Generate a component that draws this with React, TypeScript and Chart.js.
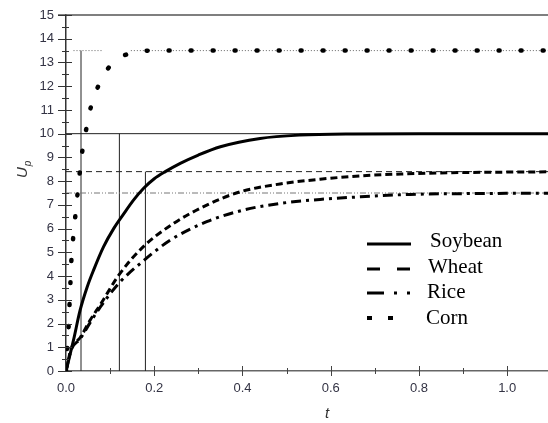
import { useEffect, useRef } from 'react';
import { Chart, registerables } from 'chart.js';

Chart.register(...registerables);

// ---- data ----
const SERIES_NAMES = ['Soybean', 'Wheat', 'Rice', 'Corn'];

const soybeanT = [0, 0.017, 0.032, 0.048, 0.0625, 0.085, 0.108, 0.13, 0.153, 0.176, 0.2, 0.225, 0.259, 0.3, 0.35, 0.44, 0.53, 0.65, 0.8, 1.19];
const soybeanU = [0, 1.3, 2.56, 3.54, 4.25, 5.23, 6.0, 6.6, 7.2, 7.7, 8.1, 8.4, 8.75, 9.1, 9.45, 9.8, 9.94, 9.99, 10, 10];

const wheatT = [0, 0.012, 0.032, 0.055, 0.078, 0.12, 0.176, 0.244, 0.319, 0.395, 0.485, 0.576, 0.667, 0.76, 0.89, 1.0, 1.19];
const wheatU = [0, 0.95, 1.4, 2.15, 2.8, 4.05, 5.25, 6.22, 6.99, 7.55, 7.88, 8.08, 8.22, 8.3, 8.36, 8.38, 8.4];

const riceT = [0, 0.012, 0.032, 0.055, 0.078, 0.12, 0.176, 0.236, 0.319, 0.402, 0.485, 0.576, 0.659, 0.78, 0.95, 1.19];
const riceU = [0, 0.9, 1.35, 2.05, 2.7, 3.7, 4.65, 5.51, 6.29, 6.78, 7.06, 7.23, 7.33, 7.44, 7.48, 7.5];

const cornT = [0, 0.003, 0.006, 0.008, 0.01, 0.012, 0.016, 0.021, 0.026, 0.031, 0.037, 0.046, 0.056, 0.073, 0.105, 0.155, 0.205, 1.19];
const cornU = [0, 1.0, 1.9, 2.8, 3.7, 4.6, 5.56, 6.5, 7.44, 8.33, 9.27, 10.2, 11.1, 12.0, 12.97, 13.42, 13.5, 13.5];

// steady-state levels (Soybean, Wheat, Rice, Corn) and time constants (Soybean, Wheat/Rice, Corn)
const STEADY_LEVELS = [10, 8.4, 7.5, 13.5];
const TIME_CONSTANTS = [0.121, 0.18, 0.034];
const CORN_LEVEL_SPANS = [0.017, 0.085, 0.147, 1.19];

const X_MIN = 0;
const X_MAX = 1.19;
const Y_MIN = 0;
const Y_MAX = 15;
const X_TICK_STEP = 0.2;
const Y_TICK_STEP = 1;

const toPts = (ts: number[], us: number[]) => ts.map((t, i) => ({ x: t, y: us[i] }));

const decorPlugin = {
  id: 'decor',
  afterDraw(chart: any) {
    const ctx = chart.ctx as CanvasRenderingContext2D;
    const xs = chart.scales.x;
    const ys = chart.scales.y;
    const ax = xs.left;
    const ay = ys.bottom;
    ctx.save();

    // top border line
    ctx.strokeStyle = '#555';
    ctx.lineWidth = 1.5;
    ctx.beginPath();
    ctx.moveTo(ax - 8, ys.top);
    ctx.lineTo(chart.width, ys.top);
    ctx.stroke();

    // y tick marks (major + minor)
    ctx.strokeStyle = '#333';
    ctx.lineWidth = 1;
    for (let k = 0; k <= 30; k++) {
      const v = k / 2;
      const major = k % 2 === 0;
      const py = Math.round(ys.getPixelForValue(v)) + 0.5;
      ctx.beginPath();
      ctx.moveTo(ax - (major ? 8 : 4), py);
      ctx.lineTo(ax + (major ? 6 : 3), py);
      ctx.stroke();
    }
    // x tick marks (major + minor)
    ctx.strokeStyle = '#444';
    for (let k = 1; k <= 11; k++) {
      const v = k / 10;
      const major = k % 2 === 0;
      const px = Math.round(xs.getPixelForValue(v)) + 0.5;
      ctx.beginPath();
      ctx.moveTo(px, ay - (major ? 5 : 3));
      ctx.lineTo(px, ay + (major ? 5 : 3));
      ctx.stroke();
    }

    // axis titles
    ctx.fillStyle = '#333';
    ctx.save();
    ctx.translate(27, 178);
    ctx.rotate(-Math.PI / 2);
    ctx.font = 'italic 15px "Liberation Sans", Arial, sans-serif';
    ctx.textBaseline = 'alphabetic';
    ctx.textAlign = 'left';
    ctx.fillText('U', 0, 0);
    const uw = ctx.measureText('U').width;
    ctx.font = 'italic 10px "Liberation Sans", Arial, sans-serif';
    ctx.fillText('p', uw + 1, 4);
    ctx.restore();

    ctx.font = 'italic 15px "Liberation Sans", Arial, sans-serif';
    ctx.textAlign = 'center';
    ctx.textBaseline = 'middle';
    ctx.fillText('t', 327, 414);

    // legend
    const lx0 = 367;
    const lx1 = 411;
    const lineYs = [244, 269, 293, 318];
    const textYs = [247, 273, 298, 324];
    const textXs = [430, 428, 427, 426];
    const dashes = [[], [13, 17], [17, 10, 3, 10, 3, 100], [5, 16, 5, 100]];
    const widths = [3, 3, 3, 4];
    for (let i = 0; i < SERIES_NAMES.length; i++) {
      ctx.strokeStyle = '#000';
      ctx.lineWidth = widths[i];
      ctx.lineCap = 'butt';
      ctx.setLineDash(dashes[i]);
      ctx.beginPath();
      ctx.moveTo(lx0, lineYs[i]);
      ctx.lineTo(lx1, lineYs[i]);
      ctx.stroke();
      ctx.setLineDash([]);
      ctx.fillStyle = '#000';
      ctx.font = '21px "Liberation Serif", "Times New Roman", serif';
      ctx.textAlign = 'left';
      ctx.textBaseline = 'alphabetic';
      ctx.fillText(SERIES_NAMES[i], textXs[i], textYs[i]);
    }
    ctx.restore();
  },
};

export default function App() {
  const canvasRef = useRef<HTMLCanvasElement | null>(null);

  useEffect(() => {
    if (!canvasRef.current) return;
    const curve = (label: string, data: any[], dash: number[], width: number, cap: any = 'butt') => ({
      label,
      data,
      borderColor: '#000',
      backgroundColor: '#000',
      borderWidth: width,
      borderDash: dash,
      borderCapStyle: cap,
      pointRadius: 0,
      fill: false,
      cubicInterpolationMode: 'monotone' as const,
    });
    const ref = (data: any[], dash: number[], color: string, width = 1) => ({
      label: '',
      data,
      borderColor: color,
      borderWidth: width,
      borderDash: dash,
      pointRadius: 0,
      fill: false,
      tension: 0,
      spanGaps: false,
    });

    const [soyK, wheatK, riceK, cornK] = STEADY_LEVELS;
    const [soyTau, wrTau, cornTau] = TIME_CONSTANTS;

    const chart = new Chart(canvasRef.current, {
      type: 'line',
      data: {
        datasets: [
          curve(SERIES_NAMES[0], toPts(soybeanT, soybeanU), [], 3),
          curve(SERIES_NAMES[1], toPts(wheatT, wheatU), [7, 4], 3),
          curve(SERIES_NAMES[2], toPts(riceT, riceU), [10, 5, 3, 5], 3),
          curve(SERIES_NAMES[3], toPts(cornT, cornU), [1, 21], 4.5, 'round'),
          ref([{ x: X_MIN, y: soyK }, { x: X_MAX, y: soyK }], [], '#222'),
          ref([{ x: X_MIN, y: wheatK }, { x: X_MAX, y: wheatK }], [6, 4], '#222'),
          ref([{ x: X_MIN, y: riceK }, { x: X_MAX, y: riceK }], [6, 2, 1, 2, 1, 2], '#777'),
          ref(
            [
              { x: CORN_LEVEL_SPANS[0], y: cornK },
              { x: CORN_LEVEL_SPANS[1], y: cornK },
              { x: (CORN_LEVEL_SPANS[1] + CORN_LEVEL_SPANS[2]) / 2, y: null },
              { x: CORN_LEVEL_SPANS[2], y: cornK },
              { x: CORN_LEVEL_SPANS[3], y: cornK },
            ],
            [1, 2],
            '#666'
          ),
          ref([{ x: soyTau, y: 0 }, { x: soyTau, y: soyK }], [], '#222'),
          ref([{ x: wrTau, y: 0 }, { x: wrTau, y: wheatK }], [], '#222'),
          ref([{ x: cornTau, y: 0 }, { x: cornTau, y: cornK }], [], '#222'),
        ],
      },
      options: {
        animation: false,
        responsive: false,
        layout: { padding: { left: 0, right: 9, top: 15, bottom: 0 } },
        plugins: { legend: { display: false }, tooltip: { enabled: false } },
        scales: {
          x: {
            type: 'linear',
            min: X_MIN,
            max: X_MAX,
            grid: { display: true, drawOnChartArea: false, drawTicks: true, tickLength: 10, tickColor: 'rgba(0,0,0,0)' },
            border: { display: true, color: '#666', width: 1.5 },
            ticks: {
              stepSize: X_TICK_STEP,
              includeBounds: false,
              autoSkip: false,
              maxRotation: 0,
              padding: 0,
              color: '#333344',
              font: { family: '"Liberation Sans", Arial, sans-serif', size: 13 },
              callback: (v: any) => Number(v).toFixed(1),
            },
            afterFit: (s: any) => {
              s.height = 52;
            },
          },
          y: {
            type: 'linear',
            min: Y_MIN,
            max: Y_MAX,
            grid: { display: true, drawOnChartArea: false, drawTicks: true, tickLength: 12, tickColor: 'rgba(0,0,0,0)' },
            border: { display: true, color: '#333', width: 1.5 },
            ticks: {
              stepSize: Y_TICK_STEP,
              padding: 0,
              color: '#333344',
              font: { family: '"Liberation Sans", Arial, sans-serif', size: 13 },
              callback: (v: any) => String(v),
            },
            afterFit: (s: any) => {
              s.width = 66;
            },
          },
        },
      },
      plugins: [decorPlugin],
    });
    return () => chart.destroy();
  }, []);

  return (
    <div style={{ position: 'fixed', left: 0, top: 0, width: 548, height: 423, overflow: 'hidden', background: '#fff' }}>
      <canvas ref={canvasRef} width={600} height={423} style={{ width: 600, height: 423, display: 'block' }} />
    </div>
  );
}
